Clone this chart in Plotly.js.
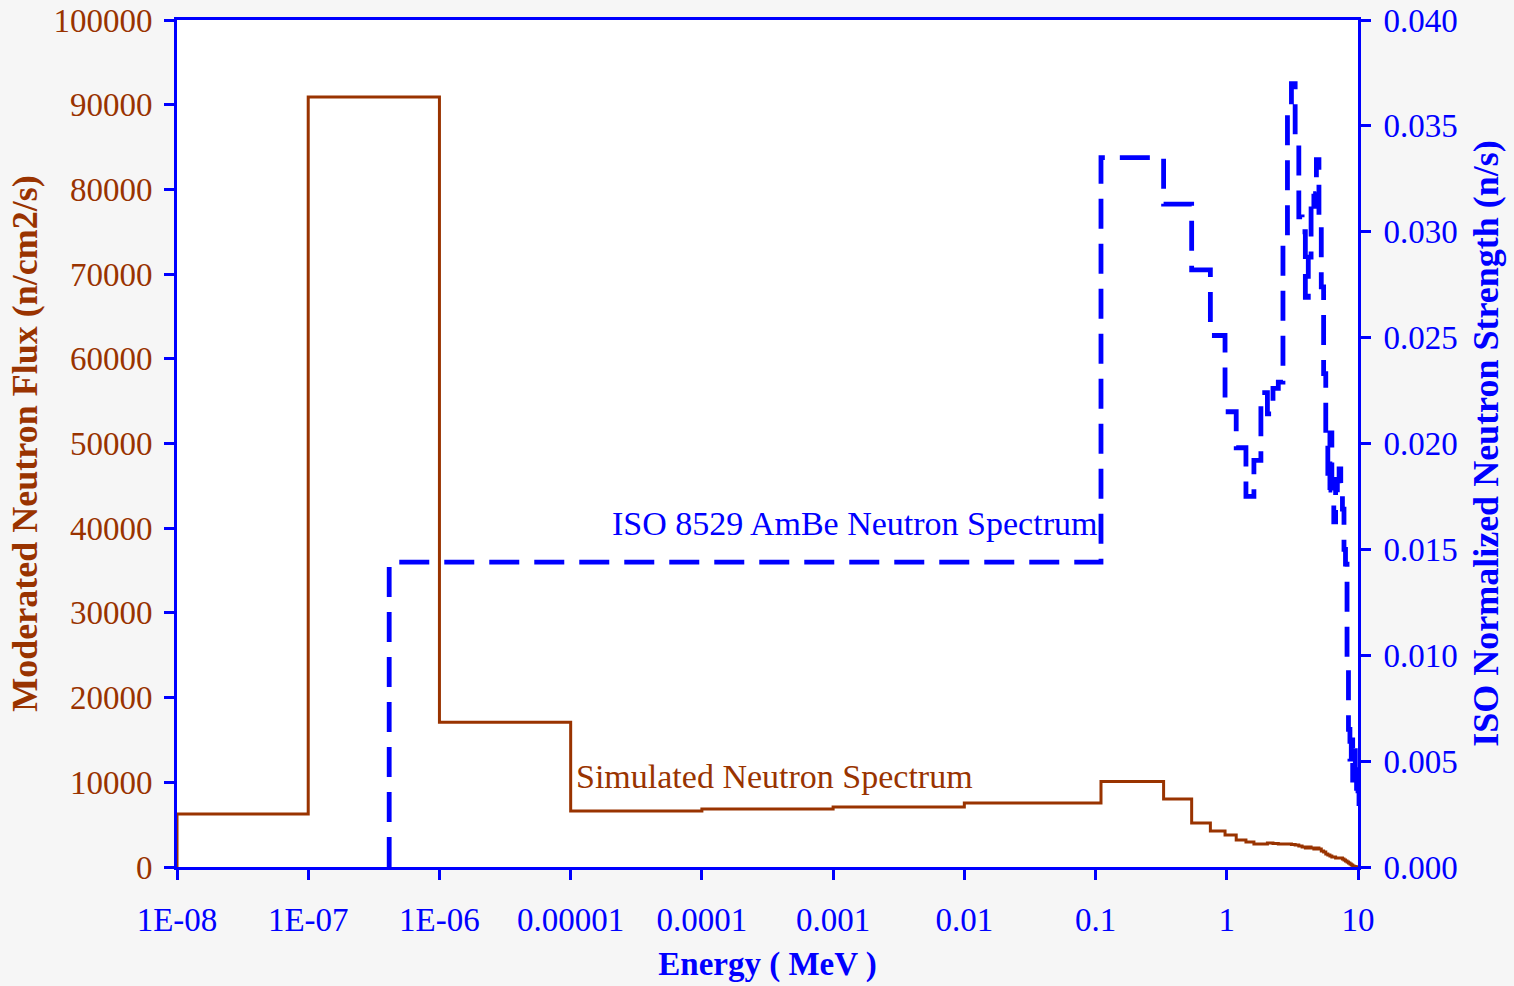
<!DOCTYPE html>
<html>
<head>
<meta charset="utf-8">
<script src="https://cdn.plot.ly/plotly-3.0.1.min.js"></script>
<style>
  html, body { margin: 0; padding: 0; background: #f6f6f6; }
  #chart { width: 1514px; height: 986px; }
</style>
</head>
<body>
<div id="chart"></div>
<script>
// ---- Data ----
// Simulated (moderated) neutron spectrum: bin lower edges (MeV) and flux (n/cm2/s)
const simEnergy = [1e-8, 1e-8, 1e-7, 1e-6, 1e-5, 1e-4, 1e-3, 1e-2,
  0.11, 0.33, 0.54, 0.75, 0.97, 1.18, 1.40, 1.61, 1.82,
  2.04, 2.25, 2.47, 2.68, 2.90, 3.11, 3.32, 3.54, 3.75, 3.97,
  4.18, 4.39, 4.61, 4.82, 5.04, 5.25, 5.47, 5.68, 5.89,
  6.11, 6.32, 6.54, 6.75, 6.96, 7.18, 7.39, 7.61, 7.82,
  8.03, 8.25, 8.46, 8.68, 8.89, 9.11, 9.32, 9.54, 9.75];
const simFlux = [0, 6250, 90900, 17100, 6600, 6850, 7080, 7560,
  10100, 8030, 5195, 4250, 3780, 3190, 2950, 2720, 2720,
  2830, 2780, 2720, 2720, 2720, 2660, 2600, 2480, 2360, 2240,
  2360, 2240, 2130, 2240, 2130, 1890, 1770, 1540, 1420,
  1300, 1180, 1180, 1060, 1060, 1060, 1060, 950, 830,
  710, 590, 470, 350, 240, 120, 50, 20, 0];

// ISO 8529 AmBe spectrum: bin lower edges (MeV) and normalized strength
const isoEnergy = [4.14e-7, 4.14e-7, 0.11, 0.33, 0.54, 0.75, 0.97,
  1.18, 1.40, 1.61, 1.82, 2.04, 2.25, 2.47, 2.68, 2.90,
  3.11, 3.32, 3.54, 3.75, 3.97, 4.18, 4.39, 4.61, 4.82,
  5.04, 5.25, 5.47, 5.68, 5.89, 6.11, 6.32, 6.54, 6.75, 6.96,
  7.18, 7.39, 7.61, 7.82, 8.03, 8.25, 8.46, 8.68, 8.89,
  9.11, 9.32, 9.54, 9.75, 9.97, 10.18, 10.40];
const isoStrength = [0, 0.0144, 0.0335, 0.0313, 0.0282, 0.0251, 0.0215,
  0.0198, 0.0175, 0.0192, 0.0224, 0.0214, 0.0226, 0.0229, 0.0296, 0.0357,
  0.0370, 0.0346, 0.0307, 0.0300, 0.0269, 0.0288, 0.0318, 0.0312, 0.0334,
  0.0306, 0.0274, 0.0233, 0.0205, 0.0178, 0.0205, 0.0181, 0.0163, 0.0183, 0.0176,
  0.0188, 0.0177, 0.0169, 0.0150, 0.0143, 0.0098, 0.0065, 0.0051, 0.0060,
  0.0041, 0.0055, 0.0036, 0.0046, 0.0036, 0.0030, 0.0030];

// Tick labels
const xTickVals = [1e-8, 1e-7, 1e-6, 1e-5, 1e-4, 1e-3, 1e-2, 0.1, 1, 10];
const xTickText = ['1E-08', '1E-07', '1E-06', '0.00001', '0.0001', '0.001', '0.01', '0.1', '1', '10'];

const BROWN = '#993300';
const BLUE = '#0000FF';
const FONT = '"Liberation Serif", "Times New Roman", Times, serif';
const FS = 33;
const FS_YTITLE = 36;

const traces = [
  {
    x: simEnergy, y: simFlux, type: 'scatter', mode: 'lines',
    line: { color: BROWN, width: 3, shape: 'hv' },
    yaxis: 'y', hoverinfo: 'skip', showlegend: false
  },
  {
    x: isoEnergy, y: isoStrength, type: 'scatter', mode: 'lines',
    line: { color: BLUE, width: 4.8, shape: 'hv', dash: '30px,15px' },
    yaxis: 'y2', hoverinfo: 'skip', showlegend: false
  }
];

const layout = {
  width: 1514, height: 986,
  paper_bgcolor: '#f6f6f6',
  plot_bgcolor: '#ffffff',
  margin: { l: 177, r: 156, t: 20, b: 119, pad: 0 },
  font: { family: FONT, size: FS, color: BLUE },
  showlegend: false,
  xaxis: {
    type: 'log', range: [-8, 1],
    tickvals: xTickVals, ticktext: xTickText,
    tickfont: { family: FONT, size: FS, color: BLUE },
    ticks: 'outside', ticklen: 10, tickwidth: 3, tickcolor: BLUE,
    ticklabelstandoff: 11,
    showline: true, linecolor: BLUE, linewidth: 3, mirror: true,
    showgrid: false, zeroline: false,
    title: { text: '<b>Energy ( MeV )</b>', font: { family: FONT, size: FS, color: BLUE }, standoff: 16 }
  },
  yaxis: {
    range: [0, 100000], dtick: 10000, tick0: 0, tickformat: 'd',
    tickfont: { family: FONT, size: FS, color: BROWN },
    ticks: 'outside', ticklen: 10, tickwidth: 3, tickcolor: BLUE,
    ticklabelstandoff: 5,
    showline: true, linecolor: BLUE, linewidth: 3,
    showgrid: false, zeroline: false,
    title: { text: '<b>Moderated Neutron Flux (n/cm2/s)</b>', font: { family: FONT, size: FS_YTITLE, color: BROWN }, standoff: 5 }
  },
  yaxis2: {
    overlaying: 'y', side: 'right',
    range: [0, 0.04], dtick: 0.005, tick0: 0, tickformat: '.3f',
    tickfont: { family: FONT, size: FS, color: BLUE },
    ticks: 'outside', ticklen: 10, tickwidth: 3, tickcolor: BLUE,
    ticklabelstandoff: 6,
    showline: true, linecolor: BLUE, linewidth: 3,
    showgrid: false, zeroline: false,
    title: { text: '<b>ISO Normalized Neutron Strength (n/s)</b>', font: { family: FONT, size: FS_YTITLE, color: BLUE }, standoff: 16 }
  },
  annotations: [
    {
      xref: 'paper', yref: 'paper', x: 0.574, y: 0.406,
      xanchor: 'center', yanchor: 'middle',
      text: 'ISO 8529 AmBe Neutron Spectrum', showarrow: false,
      font: { family: FONT, size: 34, color: BLUE }
    },
    {
      xref: 'paper', yref: 'paper', x: 0.506, y: 0.1074,
      xanchor: 'center', yanchor: 'middle',
      text: 'Simulated Neutron Spectrum', showarrow: false,
      font: { family: FONT, size: 34, color: BROWN }
    }
  ]
};

Plotly.newPlot('chart', traces, layout, { displayModeBar: false, staticPlot: true });
</script>
</body>
</html>
